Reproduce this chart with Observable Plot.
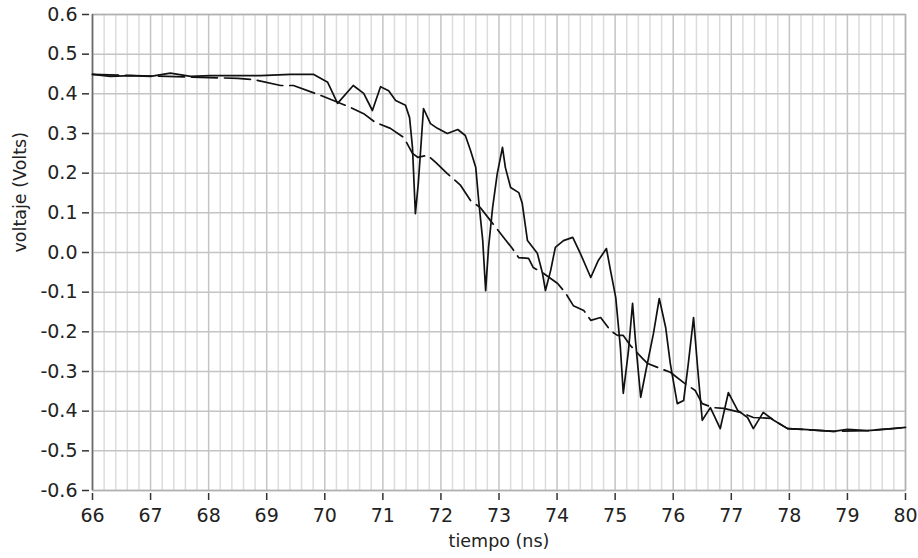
<!DOCTYPE html>
<html>
<head>
<meta charset="utf-8">
<script src="https://cdn.jsdelivr.net/npm/d3@7"></script>
<script src="https://cdn.jsdelivr.net/npm/@observablehq/plot@0.6"></script>
<style>
  html, body { margin: 0; padding: 0; background: #fff; }
  #chart svg { display: block; }
</style>
</head>
<body>
<div id="chart"></div>
<script>
// Solid (measured) trace
const solidT = [66.00,66.31,66.65,67.00,67.34,67.69,68.03,68.38,68.89,69.41,69.81,70.05,70.22,70.49,70.67,70.82,70.96,71.10,71.22,71.39,71.46,71.51,71.56,71.61,71.65,71.70,71.82,71.94,72.11,72.29,72.42,72.51,72.60,72.65,72.72,72.77,72.82,72.89,72.97,73.06,73.11,73.20,73.34,73.40,73.49,73.58,73.66,73.75,73.80,73.89,73.97,74.11,74.27,74.40,74.58,74.71,74.85,74.92,75.01,75.09,75.14,75.23,75.30,75.35,75.44,75.52,75.66,75.76,75.87,75.95,76.07,76.18,76.26,76.35,76.42,76.50,76.64,76.81,76.95,77.11,77.28,77.38,77.55,77.73,77.97,78.24,78.76,79.00,79.35,79.79,80.00];
const solidV = [0.449,0.444,0.446,0.444,0.452,0.444,0.446,0.446,0.446,0.449,0.449,0.429,0.376,0.421,0.401,0.358,0.418,0.408,0.383,0.371,0.340,0.265,0.098,0.174,0.257,0.363,0.325,0.313,0.300,0.310,0.295,0.257,0.214,0.131,0.030,-0.096,0.013,0.113,0.199,0.265,0.214,0.164,0.151,0.124,0.030,0.013,-0.002,-0.053,-0.096,-0.045,0.013,0.030,0.038,-0.002,-0.063,-0.020,0.010,-0.045,-0.113,-0.239,-0.355,-0.247,-0.128,-0.222,-0.365,-0.305,-0.204,-0.116,-0.189,-0.280,-0.381,-0.373,-0.280,-0.164,-0.290,-0.423,-0.391,-0.444,-0.353,-0.398,-0.416,-0.444,-0.403,-0.423,-0.444,-0.446,-0.451,-0.446,-0.449,-0.444,-0.441];

// Dashed (simulated) trace
const dashT = [66.00,68.50,68.77,69.24,69.46,69.93,70.44,70.67,70.87,71.13,71.36,71.51,71.60,71.77,71.91,72.11,72.34,72.51,72.68,72.85,73.08,73.23,73.34,73.51,73.59,73.77,74.01,74.15,74.28,74.46,74.58,74.75,74.92,75.04,75.14,75.26,75.47,75.56,75.95,76.18,76.38,76.50,76.69,76.87,77.16,77.38,77.68,77.97,78.24,78.76,79.35,80.00];
const dashV = [0.449,0.439,0.436,0.421,0.421,0.396,0.366,0.350,0.328,0.313,0.290,0.250,0.240,0.245,0.227,0.199,0.169,0.131,0.113,0.081,0.038,0.010,-0.013,-0.015,-0.038,-0.053,-0.078,-0.103,-0.134,-0.146,-0.171,-0.164,-0.197,-0.209,-0.209,-0.234,-0.267,-0.280,-0.302,-0.328,-0.348,-0.381,-0.391,-0.393,-0.403,-0.416,-0.418,-0.444,-0.446,-0.451,-0.449,-0.441];

// Axis ticks
const xTicks = [66,67,68,69,70,71,72,73,74,75,76,77,78,79,80];
const xMinorTicks = d3.range(0, 71).map(i => 66 + i * 0.2).filter(v => Math.abs(v - Math.round(v)) > 1e-6);
const yTicks = [-0.6,-0.5,-0.4,-0.3,-0.2,-0.1,0,0.1,0.2,0.3,0.4,0.5,0.6];

const xLabel = "tiempo (ns)";
const yLabel = "voltaje (Volts)";

const solid = solidT.map((t, i) => ({t, v: solidV[i]}));
const dashed = dashT.map((t, i) => ({t, v: dashV[i]}));

const font = "DejaVu Sans, Verdana, sans-serif";

const chart = Plot.plot({
  width: 918,
  height: 558,
  marginLeft: 92,
  marginRight: 13,
  marginTop: 14,
  marginBottom: 68,
  style: {fontFamily: font, fontSize: "19px", color: "#222", background: "#fff"},
  x: {domain: [66, 80], ticks: xTicks},
  y: {domain: [-0.6, 0.6], ticks: yTicks},
  marks: [
    Plot.ruleX(xMinorTicks, {stroke: "#dcdcdc", strokeWidth: 1.5}),
    Plot.ruleX(xTicks, {stroke: "#c4c4c4", strokeWidth: 1.5}),
    Plot.ruleY(yTicks, {stroke: "#c4c4c4", strokeWidth: 1.5}),
    Plot.frame({stroke: "#b0b0b0", strokeWidth: 1.5}),
    Plot.ruleX([66], {stroke: "#6a6a6a", strokeWidth: 1.5}),
    Plot.axisY(yTicks, {
      tickSize: 7, dx: -3, tickPadding: 5, tickFormat: d => d.toFixed(1),
      stroke: "#333", label: null, strokeWidth: 1.5
    }),
    Plot.axisX(xTicks, {
      tickSize: 7, dy: 3, tickPadding: 8, tickFormat: d => String(d),
      stroke: "#333", label: null, strokeWidth: 1.5
    }),
    Plot.line(dashed, {x: "t", y: "v", stroke: "#111", strokeWidth: 1.7, strokeDasharray: "26,7"}),
    Plot.line(solid, {x: "t", y: "v", stroke: "#111", strokeWidth: 1.7}),
    Plot.text([xLabel], {frameAnchor: "bottom", dy: 56, text: d => d, fontSize: 17.5, fill: "#222"}),
    Plot.text([yLabel], {frameAnchor: "left", dx: -72, rotate: -90, text: d => d, fontSize: 17.5, fill: "#222"})
  ]
});
document.getElementById("chart").appendChild(chart);
</script>
</body>
</html>
